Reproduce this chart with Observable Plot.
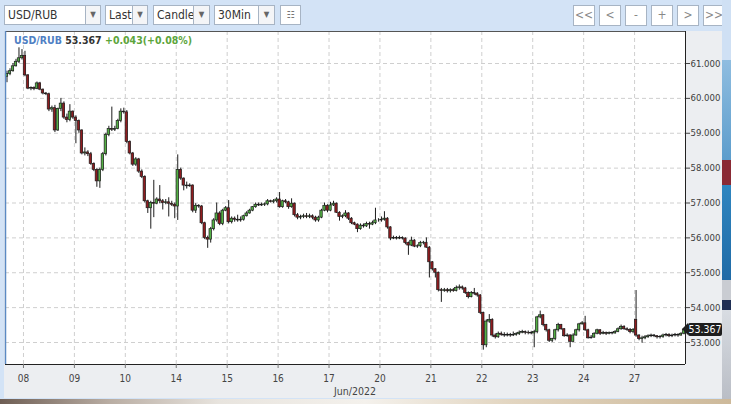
<!DOCTYPE html>
<html>
<head>
<meta charset="utf-8">
<script src="https://cdn.jsdelivr.net/npm/d3@7"></script>
<script src="https://cdn.jsdelivr.net/npm/@observablehq/plot@0.6"></script>
<style>
  html, body { margin:0; padding:0; }
  body { width:731px; height:404px; overflow:hidden; position:relative; background:#d3e3f6;
         font-family:"DejaVu Sans Condensed","DejaVu Sans",sans-serif; font-stretch:condensed; }
  svg { font-stretch:condensed; }
  .box { position:absolute; top:5px; height:20px; background:#fff; border:1px solid #a7b4c4; box-sizing:border-box;
         font-size:12px; color:#333; line-height:18px; padding-left:3px; }
  .arr { position:absolute; top:5px; height:20px; background:#f4f5f7; border:1px solid #a7b4c4; box-sizing:border-box;
         font-size:8px; color:#666; text-align:center; line-height:18px; }
  .btn { position:absolute; top:5px; height:21px; width:22px; background:#fff; border:1px solid #a7b4c4; box-sizing:border-box;
         font-size:12px; color:#888; text-align:center; line-height:19px; }
  #chartbg { position:absolute; left:4px; top:31px; width:718px; height:367px; background:#eceef1; }
  #plot { position:absolute; left:0; top:0; }
  #title { position:absolute; left:14px; top:34px; font-size:10.5px; font-weight:bold; white-space:nowrap; }
  #tag { position:absolute; left:688px; width:34px; height:13px; background:#1e1e1e; color:#fff; font-size:10.5px;
         line-height:13px; text-align:center; border-radius:2px; }
  #tag:before { content:""; position:absolute; left:-6px; top:0; border-top:6.5px solid transparent; border-bottom:6.5px solid transparent; border-right:6px solid #1e1e1e; }
  #month { position:absolute; left:300px; width:110px; top:385px; text-align:center; font-size:10.5px; color:#444; }
</style>
</head>
<body>
<div class="box" style="left:4px;width:82px">USD/RUB</div>
<div class="arr" style="left:85px;width:16px">▼</div>
<div class="box" style="left:105px;width:28px">Last</div>
<div class="arr" style="left:132px;width:16px">▼</div>
<div class="box" style="left:153px;width:41px">Candle</div>
<div class="arr" style="left:193px;width:17px">▼</div>
<div class="box" style="left:214px;width:45px">30Min</div>
<div class="arr" style="left:258px;width:17px">▼</div>
<div class="box" style="left:280px;width:21px;padding:0;text-align:center;font-size:10px;color:#777">&#x2637;</div>

<div class="btn" style="left:573px">&lt;&lt;</div>
<div class="btn" style="left:599px">&lt;</div>
<div class="btn" style="left:625px">-</div>
<div class="btn" style="left:651px">+</div>
<div class="btn" style="left:677px">&gt;</div>
<div class="btn" style="left:703px">&gt;&gt;</div>

<div id="chartbg"></div>
<div id="plot"></div>
<div id="title"><span style="color:#4f7fc4">USD/RUB</span> <span style="color:#333">53.367</span> <span style="color:#5ca53b">+0.043(+0.08%)</span></div>
<div id="month">Jun/2022</div>
<div id="tag">53.367</div>

<div style="position:absolute;left:722px;top:0;width:9px;height:60px;background:#cfe0f4"></div>
<div style="position:absolute;left:722px;top:60px;width:9px;height:100px;background:linear-gradient(#8fbde0,#5d9dcc)"></div>
<div style="position:absolute;left:722px;top:160px;width:9px;height:25px;background:#8a2a35"></div>
<div style="position:absolute;left:722px;top:185px;width:9px;height:95px;background:linear-gradient(#2f86c0,#1f6aa6)"></div>
<div style="position:absolute;left:722px;top:280px;width:9px;height:20px;background:#c9ccd2"></div>
<div style="position:absolute;left:722px;top:300px;width:9px;height:10px;background:#1f2f55"></div>
<div style="position:absolute;left:722px;top:310px;width:9px;height:94px;background:linear-gradient(#d8dce2,#b8bcc4)"></div>
<div style="position:absolute;left:0;top:399px;width:731px;height:5px;background:linear-gradient(90deg,#6e5e54 0%,#b9ada3 15%,#e8e4de 30%,#f4f1ec 50%,#e2d5c0 70%,#cdb99a 100%)"></div>

<script>
// ---- data: USD/RUB 30-min candles (Jun 7 tail .. Jun 27, 2022) ----
const dayLabels = ["08","09","10","14","15","16","17","20","21","22","23","24","27"];
const dayStart  = [6, 23, 40, 57, 74, 91, 108, 125, 142, 159, 176, 193, 210]; // first candle index of each day
const yTicks = [53, 54, 55, 56, 57, 58, 59, 60, 61];
const lastPrice = 53.367;

const open = [
  60.62,60.70,60.78,60.92,61.05,61.15,
  61.22,60.66,60.28,60.30,60.27,60.43,60.25,60.14,60.12,59.68,59.72,59.08,59.70,59.85,59.45,59.38,59.62,
  59.45,59.35,59.08,58.42,58.45,58.40,58.12,57.95,57.62,57.95,58.40,58.95,59.12,59.10,59.12,59.35,59.62,
  59.60,58.75,58.42,58.10,58.25,57.90,57.75,57.05,56.85,57.00,56.98,57.10,57.05,57.00,57.02,56.98,56.95,
  56.90,57.95,57.70,57.50,57.48,57.50,56.78,56.92,56.90,56.42,56.00,55.95,56.25,56.50,56.70,56.40,56.78,
  56.85,56.45,56.55,56.52,56.50,56.52,56.62,56.70,56.78,56.88,56.95,56.93,56.95,56.96,57.05,57.03,57.05,
  57.10,56.88,57.05,57.02,56.88,56.98,56.65,56.58,56.60,56.62,56.60,56.62,56.58,56.50,56.58,56.78,56.92,
  56.78,56.93,56.98,56.72,56.60,56.62,56.70,56.55,56.42,56.38,56.25,56.35,56.33,56.40,56.38,56.42,56.50,
  56.50,56.52,56.55,56.30,55.98,56.00,55.98,56.00,55.98,55.85,55.78,55.92,55.75,55.76,55.85,55.86,55.72,
  55.30,55.10,55.00,54.50,54.48,54.50,54.47,54.50,54.48,54.56,54.58,54.55,54.42,54.30,54.42,54.40,54.35,
  53.85,52.92,53.60,53.65,53.20,53.15,53.25,53.22,53.20,53.22,53.20,53.22,53.24,53.28,53.30,53.28,53.27,
  53.26,53.30,53.72,53.78,53.50,53.35,53.05,53.10,53.35,53.50,53.38,53.18,53.20,53.02,53.20,53.35,53.52,
  53.55,53.35,53.12,53.14,53.25,53.35,53.25,53.27,53.25,53.27,53.26,53.30,53.38,53.45,53.38,53.36,53.30,
  53.65,53.20,53.10,53.12,53.15,53.18,53.20,53.18,53.15,53.16,53.20,53.22,53.18,53.20,53.22,53.20,53.25
];
const high = [
  60.78,60.85,61.00,61.12,61.45,61.40,
  61.35,60.68,60.33,60.33,60.47,60.46,60.27,60.17,60.15,59.78,59.80,59.72,60.00,59.90,59.55,59.82,59.64,
  59.50,59.38,59.10,58.58,58.50,58.45,58.15,57.98,58.00,58.45,59.00,59.20,59.75,59.20,59.40,59.70,59.72,
  59.65,58.78,58.45,58.30,58.28,57.95,57.78,57.08,57.05,57.65,57.15,57.50,57.10,57.10,57.15,57.05,57.00,
  58.38,58.00,57.72,57.60,57.55,57.52,56.98,56.95,56.93,56.45,56.05,56.30,56.55,57.00,56.75,56.82,56.90,
  57.07,56.60,56.60,56.65,56.60,56.65,56.75,56.82,56.90,57.00,57.00,57.00,57.00,57.10,57.08,57.10,57.15,
  57.30,57.08,57.10,57.05,57.12,57.00,56.70,56.65,56.68,56.70,56.68,56.66,56.62,56.62,56.82,57.00,56.95,
  57.02,57.05,57.00,56.75,56.66,56.78,56.72,56.58,56.45,56.40,56.40,56.40,56.45,56.45,56.48,56.85,56.55,
  56.60,56.75,56.58,56.32,56.05,56.04,56.05,56.03,56.00,55.88,56.02,55.95,55.80,55.90,55.90,56.00,55.75,
  55.32,55.12,55.02,54.55,54.55,54.55,54.54,54.55,54.62,54.65,54.62,54.58,54.45,54.46,54.55,54.43,54.37,
  53.87,53.65,53.80,53.68,53.25,53.30,53.30,53.28,53.27,53.26,53.30,53.28,53.33,53.35,53.33,53.33,53.32,
  53.35,53.75,53.90,53.80,53.52,53.38,53.12,53.38,53.55,53.52,53.40,53.25,53.22,53.25,53.38,53.55,53.60,
  53.75,53.38,53.20,53.28,53.38,53.37,53.32,53.30,53.30,53.30,53.34,53.42,53.50,53.48,53.42,53.40,53.40,
  54.49,53.22,53.18,53.20,53.22,53.24,53.23,53.20,53.20,53.24,53.26,53.25,53.24,53.26,53.25,53.28,53.40
];
const low = [
  60.45,60.65,60.75,60.90,61.00,61.10,
  60.62,60.25,60.22,60.22,60.25,60.22,60.10,60.08,59.62,59.60,59.02,59.05,59.62,59.40,59.30,59.33,59.40,
  58.70,59.00,58.38,58.35,58.33,58.08,57.90,57.45,57.42,57.90,58.35,58.90,59.05,59.05,59.10,59.30,59.55,
  58.70,58.38,58.05,58.05,57.85,57.70,57.00,56.70,56.25,56.58,56.95,56.98,56.80,56.95,56.60,56.90,56.55,
  56.50,57.65,57.35,57.40,57.45,56.72,56.70,56.85,56.38,55.95,55.70,55.85,56.20,56.45,56.35,56.35,56.75,
  56.40,56.40,56.45,56.45,56.45,56.48,56.60,56.68,56.75,56.85,56.90,56.90,56.90,56.92,57.00,56.98,57.00,
  56.85,56.85,56.98,56.82,56.85,56.60,56.52,56.52,56.55,56.55,56.55,56.52,56.45,56.45,56.55,56.75,56.72,
  56.75,56.90,56.70,56.48,56.55,56.58,56.50,56.38,56.35,56.15,56.22,56.28,56.30,56.25,56.35,56.38,56.45,
  56.45,56.48,56.25,55.92,55.95,55.94,55.95,55.94,55.80,55.50,55.75,55.72,55.70,55.72,55.80,55.70,54.85,
  55.05,54.85,54.45,54.15,54.44,54.42,54.42,54.44,54.45,54.50,54.50,54.38,54.25,54.28,54.35,54.30,53.80,
  52.78,52.85,53.55,53.15,53.10,53.12,53.18,53.15,53.16,53.15,53.17,53.18,53.20,53.25,53.22,53.22,53.22,
  52.85,53.25,53.68,53.45,53.30,53.00,53.00,53.05,53.30,53.35,53.15,53.15,52.85,53.00,53.18,53.30,53.50,
  53.32,53.10,53.10,53.12,53.22,53.20,53.22,53.20,53.22,53.22,53.24,53.28,53.35,53.35,53.32,53.25,53.25,
  53.15,53.05,52.98,53.08,53.12,53.14,53.14,53.10,53.10,53.12,53.16,53.14,53.14,53.16,53.15,53.18,53.22
];
const close = [
  60.70,60.78,60.92,61.05,61.15,61.22,
  60.66,60.28,60.30,60.27,60.43,60.25,60.14,60.12,59.68,59.72,59.08,59.70,59.85,59.45,59.38,59.62,59.45,
  59.35,59.08,58.42,58.45,58.40,58.12,57.95,57.62,57.95,58.40,58.95,59.12,59.10,59.12,59.35,59.62,59.60,
  58.75,58.42,58.10,58.25,57.90,57.75,57.05,56.85,57.00,56.98,57.10,57.05,57.00,57.02,56.98,56.95,56.90,
  57.95,57.70,57.50,57.48,57.50,56.78,56.92,56.90,56.42,56.00,55.95,56.25,56.50,56.70,56.40,56.78,56.85,
  56.45,56.55,56.52,56.50,56.52,56.62,56.70,56.78,56.88,56.95,56.93,56.95,56.96,57.05,57.03,57.05,57.10,
  56.88,57.05,57.02,56.88,56.98,56.65,56.58,56.60,56.62,56.60,56.62,56.58,56.50,56.58,56.78,56.92,56.78,
  56.93,56.98,56.72,56.60,56.62,56.70,56.55,56.42,56.38,56.25,56.35,56.33,56.40,56.38,56.42,56.50,56.50,
  56.52,56.55,56.30,55.98,56.00,55.98,56.00,55.98,55.85,55.78,55.92,55.75,55.76,55.85,55.86,55.72,55.30,
  55.10,55.00,54.50,54.48,54.50,54.47,54.50,54.48,54.56,54.58,54.55,54.42,54.30,54.42,54.40,54.35,53.85,
  52.92,53.60,53.65,53.20,53.15,53.25,53.22,53.20,53.22,53.20,53.22,53.24,53.28,53.30,53.28,53.27,53.26,
  53.30,53.72,53.78,53.50,53.35,53.05,53.10,53.35,53.50,53.38,53.18,53.20,53.02,53.20,53.35,53.52,53.55,
  53.35,53.12,53.14,53.25,53.35,53.25,53.27,53.25,53.27,53.26,53.30,53.38,53.45,53.38,53.36,53.30,53.36,
  53.20,53.10,53.12,53.15,53.18,53.20,53.18,53.15,53.16,53.20,53.22,53.18,53.20,53.22,53.20,53.25,53.367
];

const candles = close.map((c, i) => ({i, open: open[i], high: high[i], low: low[i], close: c}));
const n = candles.length;
const dayPos = dayStart.map(s => s - 0.5);
const labelAt = new Map(dayPos.map((p, k) => [p, dayLabels[k]]));
const yMin = 52.369, yMax = 61.918;
const UP = "#53b044", DOWN = "#8f1c1f", EDGE = "#1c1c1c";

const chart = Plot.plot({
  width: 722, height: 398,
  marginTop: 31, marginBottom: 34, marginLeft: 5, marginRight: 37,
  style: {background: "transparent", fontFamily: "DejaVu Sans Condensed, DejaVu Sans, sans-serif", fontSize: "10px", overflow: "visible"},
  x: {domain: [-0.5, n - 0.5], axis: null, label: null},
  y: {domain: [yMin, yMax], axis: null, label: null},
  marks: [
    Plot.frame({fill: "white", stroke: "none"}),
    Plot.gridY(yTicks, {stroke: "#cfcfcf", strokeOpacity: 1, strokeDasharray: "4,3"}),
    Plot.gridX(dayPos, {stroke: "#cfcfcf", strokeOpacity: 1, strokeDasharray: "4,3"}),
    Plot.ruleX(candles, {x: "i", y1: "low", y2: "high", stroke: EDGE, strokeWidth: 1}),
    Plot.rect(candles, {x1: d => d.i - 0.4, x2: d => d.i + 0.4, y1: "open", y2: "close",
      fill: d => d.close >= d.open ? UP : DOWN, stroke: EDGE, strokeWidth: 0.7}),
    Plot.ruleY([yMax], {stroke: "#555", strokeWidth: 1}),
    Plot.ruleX([-0.5], {stroke: "#5b8ac4", strokeWidth: 1.5}),
    Plot.ruleX([n - 0.5], {stroke: "#222", strokeWidth: 1}),
    Plot.ruleY([yMin], {stroke: "#222", strokeWidth: 1}),
    Plot.axisY(yTicks, {anchor: "right", label: null, tickSize: 4, tickPadding: 1, stroke: "#444", fill: "#3c3c3c",
      fontSize: 9.5, tickFormat: d => d.toFixed(3)}),
    Plot.axisX(dayPos, {anchor: "bottom", label: null, tickSize: 4, tickPadding: 6, stroke: "#777", fill: "#444",
      fontSize: 10, tickFormat: d => labelAt.get(d)})
  ]
});
document.getElementById("plot").appendChild(chart);
const yPix = chart.scale("y").apply(lastPrice);
document.getElementById("tag").style.top = (yPix - 6.5) + "px";
</script>
</body>
</html>
